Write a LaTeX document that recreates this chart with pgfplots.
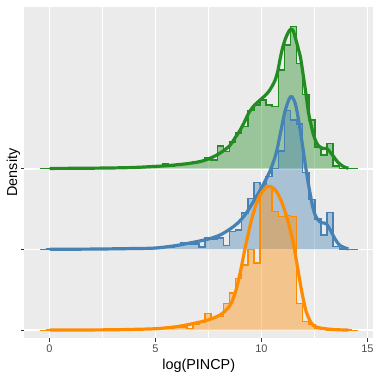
\documentclass[border=0pt]{standalone}
\usepackage{fontspec}
\setmainfont{Liberation Sans}
\usepackage{pgfplots}
\usepackage{pgfplotstable}
\pgfplotsset{compat=1.18}

\definecolor{gcol}{RGB}{34,139,34}
\definecolor{bcol}{RGB}{70,130,180}
\definecolor{ocol}{RGB}{255,140,0}
\definecolor{panel}{HTML}{EBEBEB}
\definecolor{tickc}{HTML}{333333}
\definecolor{labc}{HTML}{4D4D4D}

% histogram: left bin edge, heights (green, blue, orange)
\pgfplotstableread{
x       g      b      o
-0.432  0      0      0
-0.144  0.004  0.004  0.004
0.144   0.003  0.003  0.003
0.432   0.003  0.003  0.003
0.720   0.003  0.003  0.003
1.007   0.003  0.003  0.004
1.295   0.004  0.004  0.012
1.583   0.004  0.004  0.004
1.871   0.004  0.004  0.004
2.159   0.005  0.005  0.005
2.446   0.005  0.005  0.005
2.734   0.006  0.005  0.005
3.022   0.007  0.006  0.006
3.310   0.008  0.007  0.007
3.598   0.010  0.008  0.008
3.885   0.012  0.010  0.010
4.173   0.018  0.012  0.012
4.461   0.020  0.015  0.015
4.749   0.025  0.020  0.020
5.037   0.030  0.020  0.018
5.324   0.055  0.025  0.028
5.612   0.030  0.030  0.030
5.900   0.050  0.050  0.035
6.188   0.060  0.080  0.040
6.476   0.070  0.060  0.022
6.763   0.080  0.070  0.070
7.051   0.100  0.030  0.100
7.339   0.130  0.150  0.210
7.627   0.110  0.130  0.160
7.915   0.280  0.140  0.170
8.202   0.210  0.050  0.330
8.490   0.330  0.220  0.460
8.778   0.440  0.240  0.640
9.066   0.520  0.450  0.810
9.354   0.720  0.630  1.000
9.641   0.790  0.830  0.830
9.929   0.850  0.780  1.790
10.217  0.790  0.900  1.780
10.505  0.770  1.000  1.470
10.793  1.220  1.220  1.410
11.080  1.530  1.720  1.420
11.368  1.760  1.600  1.410
11.656  1.300  1.550  0.330
11.944  0.920  0.950  0.110
12.232  0.600  0.620  0.070
12.519  0.270  0.380  0.030
12.807  0.170  0.180  0.010
13.095  0.310  0.460  0.005
13.383  0.030  0.040  0.003
13.671  0.005  0.005  0.002
13.958  0.003  0.002  0.002
14.246  0      0      0
14.534  0      0      0
}\hist

\pgfplotstableread{
x     h
0     0.003
1     0.004
2     0.006
3     0.009
4     0.015
5     0.028
5.5   0.036
6     0.048
6.5   0.062
7.1   0.087
7.5   0.12
7.9   0.17
8.2   0.22
8.52  0.29
8.75  0.38
9.0   0.48
9.2   0.58
9.4   0.69
9.65  0.78
9.94  0.85
10.15 0.90
10.33 0.95
10.5  1.02
10.65 1.10
10.78 1.22
10.88 1.36
11.0  1.50
11.12 1.60
11.25 1.68
11.38 1.727
11.5  1.70
11.62 1.60
11.75 1.47
11.85 1.36
12.0  1.10
12.1  0.92
12.22 0.69
12.35 0.53
12.45 0.42
12.58 0.33
12.7  0.28
12.9  0.25
13.08 0.25
13.25 0.20
13.4  0.15
13.6  0.08
13.87 0.025
14.1  0.005
}\dgreen

\pgfplotstableread{
x     h
0     0.003
2     0.005
4     0.012
5     0.018
6     0.05
6.8   0.09
7.5   0.13
8.05  0.18
8.5   0.25
8.85  0.32
9.2   0.42
9.5   0.54
9.95  0.74
10.4  0.97
10.7  1.20
10.9  1.45
11.1  1.70
11.3  1.86
11.43 1.89
11.6  1.80
11.75 1.60
11.9  1.35
12.05 1.08
12.22 0.80
12.45 0.49
12.65 0.37
12.85 0.33
13.05 0.32
13.25 0.24
13.45 0.14
13.7  0.05
14.1  0.006
}\dblue

\pgfplotstableread{
x     h
0     0.003
1     0.004
2     0.005
3     0.007
4     0.012
5     0.02
6     0.045
6.8   0.085
7.5   0.13
8.05  0.19
8.4   0.27
8.6   0.35
8.8   0.50
9.0   0.72
9.23  1.02
9.45  1.28
9.65  1.48
9.85  1.63
10.05 1.72
10.3  1.78
10.5  1.77
10.7  1.72
10.9  1.62
11.1  1.48
11.3  1.30
11.5  1.08
11.7  0.78
11.9  0.48
12.1  0.24
12.35 0.09
12.6  0.04
13    0.02
13.5  0.008
14.1  0.003
}\dorange

\begin{document}
\begin{tikzpicture}
\path[use as bounding box] (-24.5pt,-43pt) rectangle (356.5pt,338pt);
\begin{axis}[
    scale only axis,
    width=348.5pt, height=331pt,
    xmin=-1.18, xmax=15.26,
    ymin=0.905, ymax=5.0,
    axis line style={draw=none},
    axis background/.style={fill=panel},
    xtick={0,5,10,15},
    minor xtick={2.5,7.5,12.5},
    ytick={1,2,3},
    yticklabels={},
    grid=both,
    major grid style={white, line width=1.8pt},
    minor grid style={white, line width=0.9pt},
    tick style={tickc, line width=1.4pt},
    major tick length=3.6pt,
    minor tick length=0pt,
    tick align=outside,
    tick pos=left,
    /pgf/number format/assume math mode=true,
    ticklabel style={font=\fontsize{11}{13}\selectfont, color=labc},
    xlabel={log(PINCP)},
    ylabel={Density},
    label style={font=\fontsize{14.4}{17}\selectfont},
    xlabel style={at={(axis description cs:0.5,0)}, anchor=center, yshift=-27.7pt},
    ylabel style={at={(axis description cs:0,0.5)}, anchor=center, yshift=11.2pt},
    clip=true,
]
% histograms
\addplot[const plot, draw=none, fill=gcol, fill opacity=0.4] table[x=x, y expr=\thisrow{g}+3] {\hist} -- cycle;
\addplot[const plot, gcol, line width=1.5pt] table[x=x, y expr=\thisrow{g}+3] {\hist};
\addplot[const plot, draw=none, fill=bcol, fill opacity=0.4] table[x=x, y expr=\thisrow{b}+2] {\hist} -- cycle;
\addplot[const plot, bcol, line width=1.5pt] table[x=x, y expr=\thisrow{b}+2] {\hist};
\addplot[const plot, draw=none, fill=ocol, fill opacity=0.4] table[x=x, y expr=\thisrow{o}+1] {\hist} -- cycle;
\addplot[const plot, ocol, line width=1.5pt] table[x=x, y expr=\thisrow{o}+1] {\hist};
% density curves
\addplot[smooth, tension=0.5, gcol, line width=3.2pt] table[x=x, y expr=\thisrow{h}+3] {\dgreen};
\addplot[smooth, tension=0.5, bcol, line width=3.2pt] table[x=x, y expr=\thisrow{h}+2] {\dblue};
\addplot[smooth, tension=0.5, ocol, line width=3.2pt] table[x=x, y expr=\thisrow{h}+1] {\dorange};
\end{axis}
\end{tikzpicture}
\end{document}
